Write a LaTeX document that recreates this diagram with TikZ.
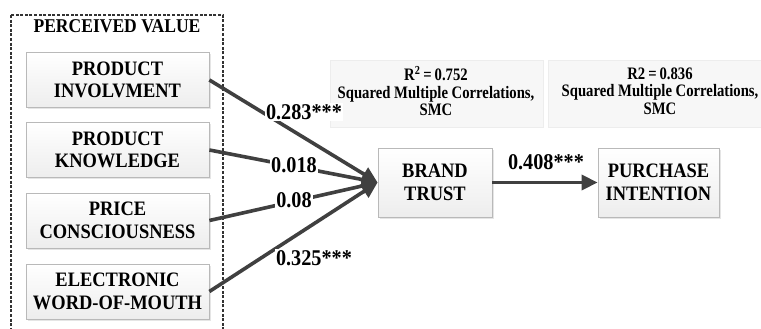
\documentclass[tikz,border=0pt]{standalone}
\usepackage{fontspec}
\setmainfont{Liberation Serif}
\newfontfamily\condfont{Liberation Serif}[FakeStretch=0.84]
\newfontfamily\tallfont{Liberation Serif}[FakeStretch=0.9]
\usetikzlibrary{arrows.meta,shadows}
\definecolor{linec}{HTML}{404040}
\begin{document}
\begin{tikzpicture}[x=1pt,y=-1pt,
  varbox/.style={draw=gray!55, line width=0.8pt, top color=white, bottom color=gray!14,
    drop shadow={opacity=0.2, shadow xshift=1.5pt, shadow yshift=-1.5pt},
    minimum width=183pt, minimum height=55pt, align=center, inner sep=0pt,
    font=\tallfont\fontsize{20.5}{22.5}\selectfont\bfseries},
  smcbox/.style={fill=gray!6, draw=gray!14, line width=0.8pt},
  smctext/.style={align=center, inner sep=0pt, font=\condfont\bfseries\fontsize{17.5}{17.5}\selectfont},
  path/.style={draw=linec, line width=3.6pt, -{Triangle[length=16pt,width=15pt]}},
  coef/.style={fill=white, inner sep=1pt, font=\tallfont\fontsize{22.5}{23}\selectfont\bfseries}]
\useasboundingbox (0,0) rectangle (761,329);
\fill[white] (0,0) rectangle (761,329);
% perceived value frame
\draw[black!80, line width=2pt, dash pattern=on 3pt off 1.6pt] (11,15) rectangle (223,345);
\node[font=\tallfont\fontsize{19.5}{20}\selectfont\bfseries] (pv) at (117,26) {PERCEIVED VALUE};
% SMC boxes
\path[smcbox] (330,60) rectangle (543,127);
\path[smcbox] (548,60) rectangle (775,127);
\node[smctext] (smc1) at (436,91) {R\textsuperscript{2}\,=\,0.752\\Squared Multiple Correlations,\\SMC};
\node[smctext] (smc2) at (660,91) {R2\,=\,0.836\\Squared Multiple Correlations,\\SMC};
% variable boxes
\node[varbox] (pi) at (117.5,80) {PRODUCT\\INVOLVMENT};
\node[varbox] (pk) at (117.5,150) {PRODUCT\\KNOWLEDGE};
\node[varbox] (pc) at (117.5,220.5) {PRICE\\CONSCIOUSNESS};
\node[varbox] (ew) at (117.5,291.5) {ELECTRONIC\\WORD-OF-MOUTH};
\node[varbox, minimum width=114pt, minimum height=69pt] (bt) at (435,182.5) {BRAND\\TRUST};
\node[varbox, minimum width=121pt, minimum height=69pt] (pur) at (658.5,182.5) {PURCHASE\\INTENTION};
% paths
\draw[path] (pi.east) -- (bt.west);
\draw[path] (pk.east) -- (bt.west);
\draw[path] (pc.east) -- (bt.west);
\draw[path] (ew.east) -- (bt.west);
\draw[path] (bt.east) -- (pur.west);
% coefficients
\node[coef] (c1) at (304,112) {0.283***};
\node[coef] (c2) at (294,165) {0.018};
\node[coef] (c3) at (294,200) {0.08};
\node[coef] (c4) at (314,258) {0.325***};
\node[coef] (c5) at (546,162) {0.408***};
\end{tikzpicture}
\end{document}
